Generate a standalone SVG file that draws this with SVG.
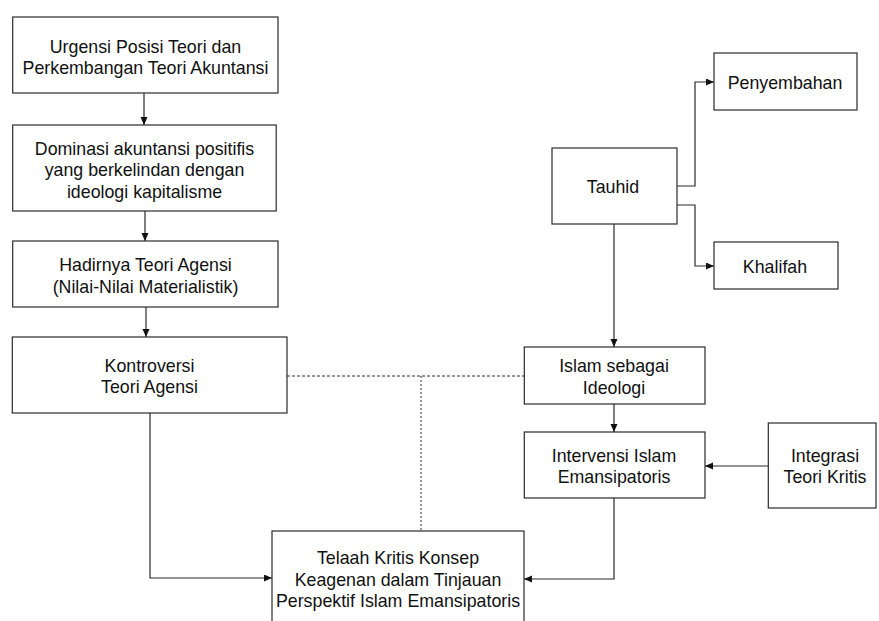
<svg xmlns="http://www.w3.org/2000/svg" width="879" height="621" viewBox="0 0 879 621">
<style>
.box{fill:#fff;stroke:#2b2b2b;stroke-width:1.2}
.t{font-family:"Liberation Sans",Arial,Helvetica,sans-serif;font-size:17.8px;fill:#111;text-anchor:middle}
.c{fill:none;stroke:#2b2b2b;stroke-width:1.2}
.dash{fill:none;stroke:#2b2b2b;stroke-width:1;stroke-dasharray:3 2}
.dot{fill:none;stroke:#555;stroke-width:1.2;stroke-dasharray:2 2}
</style>
<defs>
<marker id="ah" markerWidth="9" markerHeight="8" refX="8" refY="3.5" orient="auto" markerUnits="userSpaceOnUse">
<path d="M0,0 L8,3.5 L0,7 z" fill="#111"/>
</marker>
</defs>
<rect width="879" height="621" fill="#fff"/>
<g id="connectors">
<path class="c" d="M144,93 V125" marker-end="url(#ah)"/>
<path class="c" d="M145,211 V241" marker-end="url(#ah)"/>
<path class="c" d="M146,307 V337" marker-end="url(#ah)"/>
<path class="c" d="M150,413 V578 H272" marker-end="url(#ah)"/>
<path class="dash" d="M287,376 H524"/>
<path class="dot" d="M421,376 V537"/>
<path class="c" d="M677,186 H695 V82 H714" marker-end="url(#ah)"/>
<path class="c" d="M677,205 H695 V266 H714" marker-end="url(#ah)"/>
<path class="c" d="M614,224 V347" marker-end="url(#ah)"/>
<path class="c" d="M614,404 V432" marker-end="url(#ah)"/>
<path class="c" d="M768,466 H705" marker-end="url(#ah)"/>
<path class="c" d="M614,498 V579 H524" marker-end="url(#ah)"/>
</g>
<g id="n1">
<rect class="box" x="12.7" y="17" width="265.3" height="76"/>
<text class="t" x="145.5" y="52.5">Urgensi Posisi Teori dan</text>
<text class="t" x="145.5" y="74">Perkembangan Teori Akuntansi</text>
</g>
<g id="n2">
<rect class="box" x="12.7" y="125" width="263.5" height="86"/>
<text class="t" x="144.5" y="154.5">Dominasi akuntansi positifis</text>
<text class="t" x="144.5" y="176">yang berkelindan dengan</text>
<text class="t" x="144.5" y="197.5">ideologi kapitalisme</text>
</g>
<g id="n3">
<rect class="box" x="12.7" y="241" width="265.3" height="66"/>
<text class="t" x="145.5" y="271">Hadirnya Teori Agensi</text>
<text class="t" x="145.5" y="292.5">(Nilai-Nilai Materialistik)</text>
</g>
<g id="n4">
<rect class="box" x="12.3" y="337" width="274.7" height="76"/>
<text class="t" x="149.5" y="371.5">Kontroversi</text>
<text class="t" x="149.5" y="393">Teori Agensi</text>
</g>
<g id="n5">
<rect class="box" x="272" y="531" width="252" height="110"/>
<text class="t" x="398" y="564">Telaah Kritis Konsep</text>
<text class="t" x="398" y="585.5">Keagenan dalam Tinjauan</text>
<text class="t" x="398" y="607">Perspektif Islam Emansipatoris</text>
</g>
<g id="n6">
<rect class="box" x="552" y="148" width="125" height="76"/>
<text class="t" x="613" y="192.5">Tauhid</text>
</g>
<g id="n7">
<rect class="box" x="714" y="53" width="143" height="57"/>
<text class="t" x="785" y="88.5">Penyembahan</text>
</g>
<g id="n8">
<rect class="box" x="714" y="242" width="124" height="47"/>
<text class="t" x="775" y="272.5">Khalifah</text>
</g>
<g id="n9">
<rect class="box" x="524.3" y="347" width="180.7" height="57"/>
<text class="t" x="614" y="372">Islam sebagai</text>
<text class="t" x="614" y="393.5">Ideologi</text>
</g>
<g id="n10">
<rect class="box" x="524.3" y="432" width="180.7" height="66"/>
<text class="t" x="614" y="461.5">Intervensi Islam</text>
<text class="t" x="614" y="483">Emansipatoris</text>
</g>
<g id="n11">
<rect class="box" x="768.3" y="423" width="107.7" height="85"/>
<text class="t" x="825" y="461.5">Integrasi</text>
<text class="t" x="825" y="483">Teori Kritis</text>
</g>
</svg>
